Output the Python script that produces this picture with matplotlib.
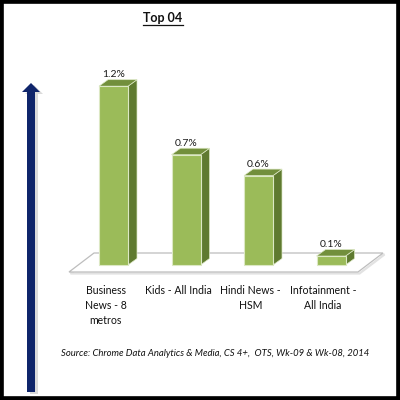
import matplotlib
matplotlib.use('Agg')
import matplotlib.pyplot as plt
from matplotlib.patches import Polygon, Rectangle
from matplotlib.transforms import Affine2D, blended_transform_factory

#-----------------Data-------------

categories = ['Business\nNews - 8\nmetros', 'Kids - All India', 'Hindi News -\nHSM', 'Infotainment -\nAll India']
values = [1.2, 0.74, 0.6, 0.06]
value_labels = ['1.2%', '0.7%', '0.6%', '0.1%']
title = 'Top 04'
source = 'Source: Chrome Data Analytics & Media, CS 4+,  OTS, Wk-09 & Wk-08, 2014'

#-----------------Style-------------

plt.rcParams['font.family'] = ['Lato', 'DejaVu Sans']
front_col = '#9bbb59'
top_col = '#728f3c'
side_col = '#5f7a30'
edge_col = '#dce8c4'
navy = '#0f256b'

#-----------------Figure-------------

fig = plt.figure(figsize=(4, 4), dpi=100)
ax = fig.add_axes([0, 0, 1, 1])

# data -> pixel mapping (x: bar index, y: percent)
x0_px, px_per_x = 113.5, 72.5
y0_px, px_per_y = 265, 149
ax.set_xlim(-x0_px / px_per_x, (400 - x0_px) / px_per_x)
ax.set_ylim(-(400 - y0_px) / px_per_y, y0_px / px_per_y)
ax.axis('off')

# pixel coords, y pointing down
pix = Affine2D().scale(1 / 400, -1 / 400).translate(0, 1) + fig.transFigure

# frame
fig.patches.append(Rectangle((0, 0), 1, 1, transform=fig.transFigure,
                             fill=False, edgecolor='black', linewidth=5.5))

# floor
floor = [(69, 272), (358, 272), (383, 253), (94, 253)]
ax.add_patch(Polygon([(x + 1.5, y + 1.5) for x, y in floor], closed=True,
                     facecolor='none', edgecolor='#e2e2e2', linewidth=1.6,
                     transform=pix, clip_on=False, zorder=1))
ax.add_patch(Polygon(floor, closed=True, facecolor='white', edgecolor='#bdbdbd',
                     linewidth=0.9, transform=pix, clip_on=False, zorder=1))

# bars (3d look)
w = 0.4
dx = 9 / px_per_x
dy = 6.5 / px_per_y
xs = list(range(len(values)))
ax.bar(xs, values, width=w, color=front_col, edgecolor=edge_col, linewidth=0.8, zorder=3)
for x, v, lab in zip(xs, values, value_labels):
    r, l = x + w / 2, x - w / 2
    ax.add_patch(Polygon([(r, 0), (r + dx, dy), (r + dx, v + dy), (r, v)],
                         facecolor=side_col, edgecolor=edge_col, linewidth=0.5, zorder=2))
    ax.add_patch(Polygon([(l, v), (r, v), (r + dx, v + dy), (l + dx, v + dy)],
                         facecolor=top_col, edgecolor=edge_col, linewidth=0.5, zorder=2))
    ax.text(x, v + dy + 0.004, lab, ha='center', va='bottom', fontsize=7.5, color='#1a1a1a')

# category labels
xt = blended_transform_factory(ax.transData, pix)
for x, cat in zip(xs, categories):
    ax.text(x - 0.11, 285, cat, transform=xt, ha='center', va='top',
            multialignment='center', fontsize=7.6, linespacing=1.45, color='#111111')

# title
fig.text(163, 18, title, transform=pix, ha='center', va='center',
         fontsize=9, fontweight='bold', color='#111111')
ax.plot([143, 183], [24.5, 24.5], color='#111111', linewidth=0.9,
        transform=pix, clip_on=False)

# source note
fig.text(215, 354, source, transform=pix, ha='center', va='center',
         fontsize=6.8, fontstyle='italic', color='#111111')

# arrow
arrow = [(27, 392), (27, 92), (22, 92), (31, 83), (40, 92), (35, 92), (35, 392)]
ax.add_patch(Polygon([(x + 3, y + 2) for x, y in arrow], closed=True,
                     facecolor='#9a9a9a', edgecolor='none', alpha=0.35,
                     transform=pix, clip_on=False, zorder=1))
ax.add_patch(Polygon(arrow, closed=True, facecolor=navy, edgecolor='none',
                     transform=pix, clip_on=False, zorder=2))

fig.savefig('out.png', dpi=100)
